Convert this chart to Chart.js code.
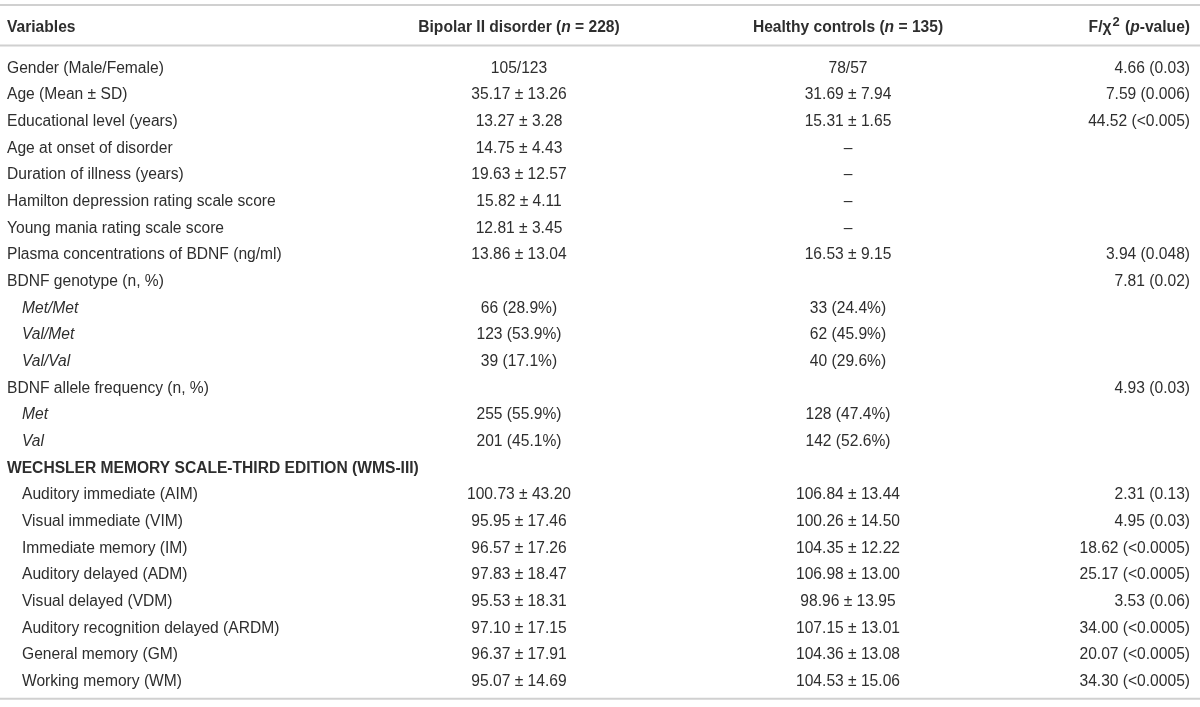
<!DOCTYPE html>
<html>
<head>
<meta charset="utf-8">
<script src="https://cdn.jsdelivr.net/npm/chart.js@4.4.1/dist/chart.umd.min.js"></script>
<style>
  html, body { margin: 0; padding: 0; background: #fff; }
  #wrap { width: 1200px; height: 707px; }
</style>
</head>
<body>
<div id="wrap"><canvas id="table-chart" width="1200" height="707"></canvas></div>
<script>
const headers = ['Variables', 'Bipolar II disorder (*n* = 228)', 'Healthy controls (*n* = 135)', 'F/χ^2^ (*p*-value)'];

const rowLabels = [
    'Gender (Male/Female)', 'Age (Mean ± SD)', 'Educational level (years)', 'Age at onset of disorder',
    'Duration of illness (years)', 'Hamilton depression rating scale score', 'Young mania rating scale score',
    'Plasma concentrations of BDNF (ng/ml)', 'BDNF genotype (n, %)', 'Met/Met', 'Val/Met', 'Val/Val',
    'BDNF allele frequency (n, %)', 'Met', 'Val', 'WECHSLER MEMORY SCALE-THIRD EDITION (WMS-III)',
    'Auditory immediate (AIM)', 'Visual immediate (VIM)', 'Immediate memory (IM)', 'Auditory delayed (ADM)',
    'Visual delayed (VDM)', 'Auditory recognition delayed (ARDM)', 'General memory (GM)', 'Working memory (WM)'
];

// row kind: var = plain variable, level = genotype/allele level, section = heading, sub = WMS subscale
const rowKinds = [
    'var', 'var', 'var', 'var', 'var', 'var', 'var', 'var', 'var', 'level', 'level', 'level',
    'var', 'level', 'level', 'section', 'sub', 'sub', 'sub', 'sub', 'sub', 'sub', 'sub', 'sub'
];

const bipolarValues = [
    '105/123', '35.17 ± 13.26', '13.27 ± 3.28', '14.75 ± 4.43', '19.63 ± 12.57', '15.82 ± 4.11',
    '12.81 ± 3.45', '13.86 ± 13.04', '', '66 (28.9%)', '123 (53.9%)', '39 (17.1%)', '',
    '255 (55.9%)', '201 (45.1%)', '', '100.73 ± 43.20', '95.95 ± 17.46', '96.57 ± 17.26',
    '97.83 ± 18.47', '95.53 ± 18.31', '97.10 ± 17.15', '96.37 ± 17.91', '95.07 ± 14.69'
];

const controlValues = [
    '78/57', '31.69 ± 7.94', '15.31 ± 1.65', '–', '–', '–', '–', '16.53 ± 9.15', '',
    '33 (24.4%)', '62 (45.9%)', '40 (29.6%)', '', '128 (47.4%)', '142 (52.6%)', '',
    '106.84 ± 13.44', '100.26 ± 14.50', '104.35 ± 12.22', '106.98 ± 13.00', '98.96 ± 13.95',
    '107.15 ± 13.01', '104.36 ± 13.08', '104.53 ± 15.06'
];

const testValues = [
    '4.66 (0.03)', '7.59 (0.006)', '44.52 (<0.005)', '', '', '', '', '3.94 (0.048)', '7.81 (0.02)',
    '', '', '', '4.93 (0.03)', '', '', '', '2.31 (0.13)', '4.95 (0.03)', '18.62 (<0.0005)',
    '25.17 (<0.0005)', '3.53 (0.06)', '34.00 (<0.0005)', '20.07 (<0.0005)', '34.30 (<0.0005)'
];

// layout in scale units (x: 0..1200, y: row index)
const colAnchors = [7, 519, 848, 1190];
const colAlign = ['left', 'center', 'center', 'right'];
const headerRow = -1.52;
const ruleRows = [-2.37, -0.85, 23.64];
const FONT = '"Liberation Sans", Arial, sans-serif';
const TEXT = '#2e2e2e';
const SIZE = 15.6;

function parseRich(str) {
    // *x* = italic, ^x^ = superscript
    const segs = [];
    let italic = false, sup = false, buf = '';
    for (const ch of str) {
        if (ch === '*' || ch === '^') {
            if (buf) segs.push({ text: buf, italic, sup });
            buf = '';
            if (ch === '*') italic = !italic; else sup = !sup;
        } else {
            buf += ch;
        }
    }
    if (buf) segs.push({ text: buf, italic, sup });
    return segs;
}

function fontFor(seg, bold, size) {
    const s = seg.sup ? Math.round(size * 0.82) : size;
    return (seg.italic ? 'italic ' : '') + (bold ? 'bold ' : '') + s + 'px ' + FONT;
}

function drawRich(ctx, str, x, y, align, bold, size) {
    const segs = parseRich(str);
    let total = 0;
    segs.forEach(seg => {
        ctx.font = fontFor(seg, bold, size);
        seg.w = ctx.measureText(seg.text).width + (seg.sup ? 2 : 0);
        total += seg.w;
    });
    let cx = x;
    if (align === 'center') cx = x - total / 2;
    if (align === 'right') cx = x - total;
    segs.forEach(seg => {
        ctx.font = fontFor(seg, bold, size);
        ctx.fillText(seg.text, cx + (seg.sup ? 1 : 0), seg.sup ? y - size * 0.36 : y);
        cx += seg.w;
    });
}

const tableText = {
    id: 'tableText',
    afterDatasetsDraw(chart) {
        const ctx = chart.ctx;
        const xs = chart.scales.x;
        const ys = chart.scales.y;
        ctx.save();
        ctx.fillStyle = TEXT;
        ctx.textAlign = 'left';
        ctx.textBaseline = 'middle';

        const hy = ys.getPixelForValue(headerRow);
        headers.forEach((h, c) => {
            drawRich(ctx, h, xs.getPixelForValue(colAnchors[c]), hy, colAlign[c], true, SIZE);
        });

        const columns = [rowLabels, bipolarValues, controlValues, testValues];
        rowLabels.forEach((label, i) => {
            const y = ys.getPixelForValue(i);
            const kind = rowKinds[i];
            let lx = xs.getPixelForValue(colAnchors[0]);
            if (kind === 'level' || kind === 'sub') lx += 15;
            const lbl = kind === 'level' ? '*' + label + '*' : label;
            drawRich(ctx, lbl, lx, y, 'left', kind === 'section', SIZE);
            for (let c = 1; c < columns.length; c++) {
                const v = columns[c][i];
                if (v) drawRich(ctx, v, xs.getPixelForValue(colAnchors[c]), y, colAlign[c], false, SIZE);
            }
        });
        ctx.restore();
    }
};

const ruleSets = ruleRows.map(r => ({
    type: 'line',
    data: [{ x: 0, y: r }, { x: 1200, y: r }],
    borderColor: '#d0d0d0',
    borderWidth: 2,
    pointRadius: 0,
    fill: false
}));

new Chart(document.getElementById('table-chart').getContext('2d'), {
    type: 'line',
    data: { datasets: ruleSets },
    options: {
        responsive: false,
        animation: false,
        devicePixelRatio: 1,
        layout: { padding: 0 },
        plugins: { legend: { display: false }, tooltip: { enabled: false } },
        scales: {
            x: { type: 'linear', min: 0, max: 1200, display: false },
            y: { type: 'linear', min: -2.56, max: 23.95, reverse: true, display: false }
        }
    },
    plugins: [tableText]
});
</script>
</body>
</html>
